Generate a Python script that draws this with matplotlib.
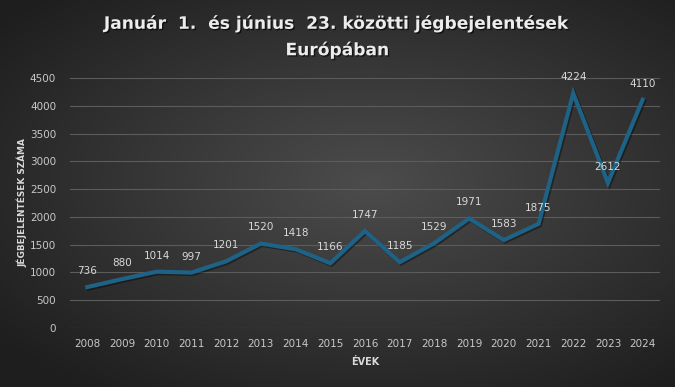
import numpy as np
import matplotlib
matplotlib.use("Agg")
import matplotlib.pyplot as plt
import matplotlib.patheffects as pe

years = ["2008", "2009", "2010", "2011", "2012", "2013", "2014", "2015", "2016",
         "2017", "2018", "2019", "2020", "2021", "2022", "2023", "2024"]
values = [736, 880, 1014, 997, 1201, 1520, 1418, 1166, 1747,
          1185, 1529, 1971, 1583, 1875, 4224, 2612, 4110]
yticks = [0, 500, 1000, 1500, 2000, 2500, 3000, 3500, 4000, 4500]

title = "Január  1.  és június  23. közötti jégbejelentések\nEurópában"
xlabel = "ÉVEK"
ylabel = "JÉGBEJELENTÉSEK SZÁMA"

fig = plt.figure(figsize=(6.75, 3.87), dpi=100)

# radial gradient background
bg = fig.add_axes([0, 0, 1, 1], zorder=-10)
yy, xx = np.mgrid[-1:1:387j, -1:1:675j]
r = np.sqrt(((xx - 0.1) * 0.85) ** 2 + (yy * 0.9 + 0.05) ** 2)
r = np.clip(r / 1.2, 0, 1)
c0 = np.array([0x4c, 0x4c, 0x4c]) / 255
c1 = np.array([0x1e, 0x1e, 0x1e]) / 255
img = c0[None, None, :] * (1 - r[..., None]) + c1[None, None, :] * r[..., None]
bg.imshow(img, aspect="auto", extent=[0, 1, 0, 1])
bg.axis("off")

ax = fig.add_axes([70 / 675, 59 / 387, 590 / 675, 250 / 387])
ax.patch.set_alpha(0)
x = np.arange(len(years))
ax.plot(x, values, color="#1e6285", lw=3.0, solid_joinstyle="miter", zorder=3,
        path_effects=[pe.SimpleLineShadow(offset=(1, -1), shadow_color="black", alpha=0.4),
                      pe.Normal()])
for xi, v in zip(x, values):
    ax.annotate(str(v), (xi, v), xytext=(0, 8), textcoords="offset points",
                ha="center", va="bottom", color="#d9d9d9", fontsize=7.5, zorder=4)

ax.set_xlim(-0.5, len(years) - 0.5)
ax.set_ylim(0, 4500)
ax.set_yticks(yticks)
ax.set_xticks(x)
ax.set_xticklabels(years)
ax.grid(axis="y", color="#5c5c5c", lw=0.8)
ax.set_axisbelow(True)
for s in ax.spines.values():
    s.set_visible(False)
ax.tick_params(length=0, colors="#c8c8c8", labelsize=7.5, pad=8)
ax.tick_params(axis="y", pad=10)

ax.set_xlabel(xlabel, color="#d9d9d9", fontsize=7, fontweight="bold", labelpad=6)
ax.set_ylabel(ylabel, color="#d9d9d9", fontsize=6.4, fontweight="bold", labelpad=2)

fig.text(0.5, 0.905, title, ha="center", va="center", color="#ececec", fontsize=12.3,
         fontweight="bold", linespacing=1.55,
         path_effects=[pe.withSimplePatchShadow(offset=(1, -1), shadow_rgbFace="black", alpha=0.6)])

fig.savefig("out.png", dpi=100)
